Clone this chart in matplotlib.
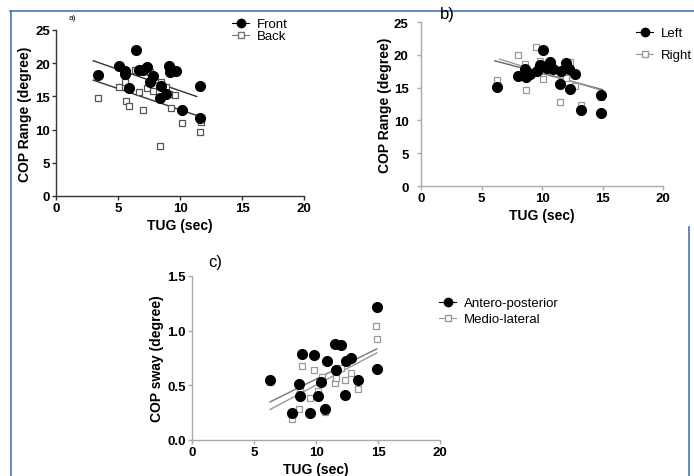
import numpy as np
import matplotlib
matplotlib.use("Agg")
from matplotlib import pyplot as plt
from matplotlib.lines import Line2D

plt.rcParams['font.family'] = ['Liberation Sans', 'DejaVu Sans']

# panel a) front / back
tug_a_front = [3.4, 5.05, 5.6, 5.6, 5.85, 6.45, 6.7, 7.0, 7.3, 7.6, 7.8, 8.4, 8.45, 8.85, 9.15, 9.2, 9.65, 10.15, 11.65, 11.65]
cop_front = [18.2, 19.6, 18.9, 18.4, 16.2, 22.0, 19.0, 19.0, 19.5, 17.2, 18.0, 14.7, 16.6, 15.3, 19.6, 18.6, 18.8, 12.9, 16.6, 11.7]
tug_a_back = [3.4, 5.05, 5.6, 5.65, 5.85, 6.4, 6.7, 7.0, 7.3, 7.55, 7.8, 8.4, 8.45, 8.85, 9.15, 9.25, 9.6, 10.15, 11.6, 11.7]
cop_back = [14.7, 16.4, 17.2, 14.3, 13.5, 19.0, 15.7, 13.0, 16.3, 18.6, 15.8, 7.6, 17.2, 16.4, 15.4, 13.2, 15.2, 11.0, 9.6, 11.2]
# regression lines: (slope, intercept, x start, x end)
fit_front = (-0.646, 22.31, 3.0, 11.35)
fit_back = (-0.637, 19.36, 3.0, 11.6)

# panel b) left / right
tug_b_left = [6.25, 8.05, 8.6, 8.65, 9.0, 9.6, 9.8, 10.1, 10.45, 10.7, 10.95, 11.45, 11.55, 11.95, 12.2, 12.3, 12.7, 13.2, 14.9, 14.9]
cop_left = [15.1, 16.7, 17.8, 16.6, 17.0, 17.5, 18.5, 20.7, 18.0, 18.9, 17.9, 15.5, 17.6, 18.8, 17.9, 14.8, 17.0, 11.6, 13.9, 11.2]
tug_b_right = [6.25, 8.05, 8.6, 8.65, 9.5, 9.8, 10.1, 10.35, 10.7, 11.45, 11.55, 11.95, 12.3, 12.7, 13.2, 14.9]
cop_right = [16.1, 19.9, 18.6, 14.7, 21.2, 19.0, 16.3, 18.6, 18.3, 12.8, 17.2, 16.5, 18.9, 15.2, 12.3, 13.5]
fit_left = (-0.494, 22.1, 6.1, 15.0)
fit_right = (-0.565, 23.0, 6.5, 15.0)

# panel c) antero-posterior / medio-lateral
tug_c_ap = [6.3, 8.1, 8.65, 8.7, 8.9, 9.5, 9.85, 10.15, 10.4, 10.75, 10.9, 11.55, 11.65, 12.05, 12.35, 12.45, 12.85, 13.35, 14.9, 14.95]
sway_ap = [0.545, 0.245, 0.51, 0.405, 0.79, 0.25, 0.78, 0.405, 0.53, 0.28, 0.72, 0.88, 0.64, 0.87, 0.41, 0.72, 0.75, 0.545, 1.215, 0.65]
tug_c_ml = [6.3, 8.1, 8.65, 8.7, 8.9, 9.5, 9.85, 10.15, 10.45, 10.75, 11.5, 11.6, 12.05, 12.35, 12.45, 12.85, 13.4, 14.85, 14.95]
sway_ml = [0.53, 0.19, 0.28, 0.47, 0.68, 0.38, 0.64, 0.445, 0.58, 0.26, 0.52, 0.57, 0.66, 0.545, 0.73, 0.615, 0.47, 1.045, 0.925]
fit_ap = (0.0564, -0.007, 6.3, 14.9)
fit_ml = (0.0602, -0.100, 6.3, 14.9)

W, H = 694, 477
BLUE = '#4a72c0'


def rect(x0, y0, x1, y1):
    return [x0 / W, 1 - y1 / H, (x1 - x0) / W, (y1 - y0) / H]


def style_axes(ax, spine_col, ymax, ystep, ylabel, ypad=1.5, ylabelpad=2):
    for s in ['top', 'right']:
        ax.spines[s].set_visible(False)
    for s in ['left', 'bottom']:
        ax.spines[s].set_color(spine_col)
        ax.spines[s].set_linewidth(1.0)
    ax.set_xlim(0, 20)
    ax.set_ylim(0, ymax)
    ax.set_xticks([0, 5, 10, 15, 20])
    ax.set_yticks(np.arange(0, ymax + ystep / 2, ystep))
    ax.tick_params(direction='out', length=3, width=1.0, color=spine_col,
                   labelsize=9.5, pad=1.5)
    ax.tick_params(axis='y', pad=ypad)
    for lbl in ax.get_xticklabels() + ax.get_yticklabels():
        lbl.set_fontweight('bold')
    ax.set_xlabel('TUG (sec)', fontsize=10, fontweight='bold', labelpad=3)
    ax.set_ylabel(ylabel, fontsize=10, fontweight='bold', labelpad=ylabelpad)


def fit_line(ax, fit, col, lw=1.0):
    m, b, x0, x1 = fit
    xs = np.array([x0, x1])
    ax.plot(xs, m * xs + b, color=col, lw=lw, zorder=2)


def scatter(ax, x, y, filled, edge):
    if filled:
        ax.plot(x, y, 'o', ms=7, mfc='black', mec='black', ls='none',
                zorder=4, clip_on=False)
    else:
        ax.plot(x, y, 's', ms=5, mfc='white', mec=edge, mew=0.9, ls='none',
                zorder=3, clip_on=False)


def legend(ax, labels, edge, x, y, spacing):
    h = [Line2D([], [], color='black', lw=0.8, marker='o', ms=6, mfc='black', mec='black'),
         Line2D([], [], color=edge, lw=0.8, marker='s', ms=4.5, mfc='white', mec=edge)]
    ax.legend(h, labels, loc='upper left', bbox_to_anchor=(x / W, 1 - y / H),
              bbox_transform=fig.transFigure, frameon=False, fontsize=9.5,
              handlelength=1.3, handletextpad=0.6, labelspacing=spacing,
              borderpad=0, borderaxespad=0)


fig = plt.figure(figsize=(6.94, 4.77), dpi=100)

# a)
ax_a = fig.add_axes(rect(56, 31, 304, 197))
style_axes(ax_a, '#333333', 25, 5, 'COP Range (degree)')
fit_line(ax_a, fit_front, '#333333')
fit_line(ax_a, fit_back, '#333333')
scatter(ax_a, tug_a_back, cop_back, False, '#555555')
scatter(ax_a, tug_a_front, cop_front, True, 'black')
legend(ax_a, ['Front', 'Back'], '#777777', 232, 19, 0.0)
fig.text(69 / W, 1 - 18 / H, 'a)', fontsize=6, va='center')

# b)
ax_b = fig.add_axes(rect(421, 23, 663, 187))
style_axes(ax_b, '#aaaaaa', 25, 5, 'COP Range (degree)', ypad=6, ylabelpad=1)
fit_line(ax_b, fit_left, '#666666')
fit_line(ax_b, fit_right, '#999999')
scatter(ax_b, tug_b_right, cop_right, False, '#999999')
scatter(ax_b, tug_b_left, cop_left, True, 'black')
legend(ax_b, ['Left', 'Right'], '#999999', 636, 28, 0.75)
fig.text(440 / W, 1 - 15 / H, 'b)', fontsize=12, va='center')

# c)
ax_c = fig.add_axes(rect(192, 277, 440, 441))
style_axes(ax_c, '#aaaaaa', 1.5, 0.5, 'COP sway (degree)')
ax_c.set_yticklabels(['0.0', '0.5', '1.0', '1.5'], fontweight='bold')
fit_line(ax_c, fit_ap, '#777777')
fit_line(ax_c, fit_ml, '#999999')
scatter(ax_c, tug_c_ml, sway_ml, False, '#999999')
scatter(ax_c, tug_c_ap, sway_ap, True, 'black')
legend(ax_c, ['Antero-posterior', 'Medio-lateral'], '#999999', 439, 298, 0.3)
fig.text(208 / W, 1 - 263 / H, 'c)', fontsize=12, va='center')

# blue frame
fig.add_artist(Line2D([10 / W, 1], [1 - 12 / H, 1 - 12 / H], color=BLUE, lw=1.2))
fig.add_artist(Line2D([11 / W, 11 / W], [0, 1 - 12 / H], color=BLUE, lw=1.2))
fig.add_artist(Line2D([689 / W, 689 / W], [0, 1 - 228 / H], color=BLUE, lw=1.2))

fig.savefig('out.png', dpi=100)
